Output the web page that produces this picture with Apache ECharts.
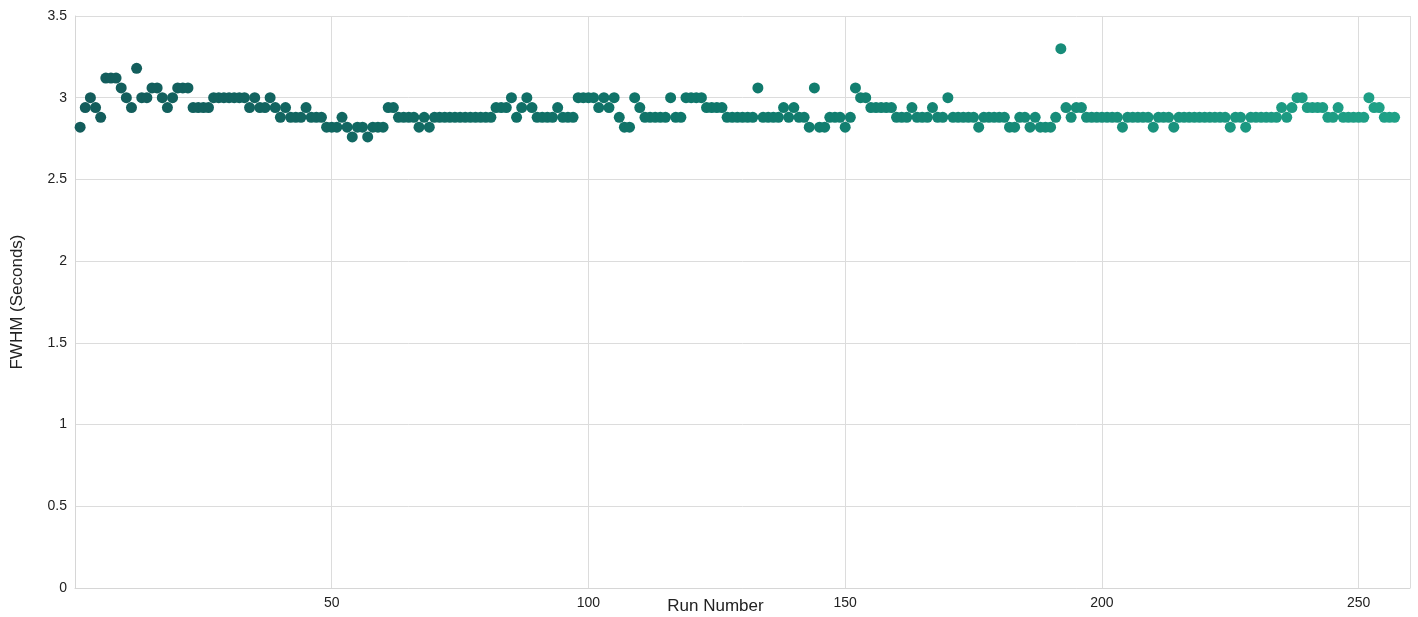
<!DOCTYPE html>
<html>
<head>
<meta charset="utf-8">
<script src="https://cdn.jsdelivr.net/npm/echarts@6/dist/echarts.min.js"></script>
<style>
  html, body { margin: 0; padding: 0; background: #fff; }
  #chart { width: 1418px; height: 617px; }
</style>
</head>
<body>
<div id="chart"></div>
<script>
// FWHM per run, run number = index + 1
const fwhm = [
  2.82, 2.94, 3.0, 2.94, 2.88, 3.12, 3.12, 3.12, 3.06, 3.0,
  2.94, 3.18, 3.0, 3.0, 3.06, 3.06, 3.0, 2.94, 3.0, 3.06,
  3.06, 3.06, 2.94, 2.94, 2.94, 2.94, 3.0, 3.0, 3.0, 3.0,
  3.0, 3.0, 3.0, 2.94, 3.0, 2.94, 2.94, 3.0, 2.94, 2.88,
  2.94, 2.88, 2.88, 2.88, 2.94, 2.88, 2.88, 2.88, 2.82, 2.82,
  2.82, 2.88, 2.82, 2.76, 2.82, 2.82, 2.76, 2.82, 2.82, 2.82,
  2.94, 2.94, 2.88, 2.88, 2.88, 2.88, 2.82, 2.88, 2.82, 2.88,
  2.88, 2.88, 2.88, 2.88, 2.88, 2.88, 2.88, 2.88, 2.88, 2.88,
  2.88, 2.94, 2.94, 2.94, 3.0, 2.88, 2.94, 3.0, 2.94, 2.88,
  2.88, 2.88, 2.88, 2.94, 2.88, 2.88, 2.88, 3.0, 3.0, 3.0,
  3.0, 2.94, 3.0, 2.94, 3.0, 2.88, 2.82, 2.82, 3.0, 2.94,
  2.88, 2.88, 2.88, 2.88, 2.88, 3.0, 2.88, 2.88, 3.0, 3.0,
  3.0, 3.0, 2.94, 2.94, 2.94, 2.94, 2.88, 2.88, 2.88, 2.88,
  2.88, 2.88, 3.06, 2.88, 2.88, 2.88, 2.88, 2.94, 2.88, 2.94,
  2.88, 2.88, 2.82, 3.06, 2.82, 2.82, 2.88, 2.88, 2.88, 2.82,
  2.88, 3.06, 3.0, 3.0, 2.94, 2.94, 2.94, 2.94, 2.94, 2.88,
  2.88, 2.88, 2.94, 2.88, 2.88, 2.88, 2.94, 2.88, 2.88, 3.0,
  2.88, 2.88, 2.88, 2.88, 2.88, 2.82, 2.88, 2.88, 2.88, 2.88,
  2.88, 2.82, 2.82, 2.88, 2.88, 2.82, 2.88, 2.82, 2.82, 2.82,
  2.88, 3.3, 2.94, 2.88, 2.94, 2.94, 2.88, 2.88, 2.88, 2.88,
  2.88, 2.88, 2.88, 2.82, 2.88, 2.88, 2.88, 2.88, 2.88, 2.82,
  2.88, 2.88, 2.88, 2.82, 2.88, 2.88, 2.88, 2.88, 2.88, 2.88,
  2.88, 2.88, 2.88, 2.88, 2.82, 2.88, 2.88, 2.82, 2.88, 2.88,
  2.88, 2.88, 2.88, 2.88, 2.94, 2.88, 2.94, 3.0, 3.0, 2.94,
  2.94, 2.94, 2.94, 2.88, 2.88, 2.94, 2.88, 2.88, 2.88, 2.88,
  2.88, 3.0, 2.94, 2.94, 2.88, 2.88, 2.88
];
const pointColors = ['#135c5b', '#0f786b', '#1fa187'];

const font = "'Helvetica Neue', Helvetica, Arial, 'Liberation Sans', sans-serif";
const chart = echarts.init(document.getElementById('chart'));

chart.setOption({
  backgroundColor: '#fff',
  animation: false,
  grid: { left: 75, right: 8, top: 16, bottom: 29, outerBoundsMode: 'none', containLabel: false },
  visualMap: {
    show: false,
    type: 'continuous',
    dimension: 0,
    min: 1,
    max: fwhm.length,
    inRange: { color: pointColors },
  },
  xAxis: {
    type: 'value',
    min: 0,
    max: 260,
    interval: 50,
    name: 'Run Number',
    nameLocation: 'middle',
    nameGap: 10,
    nameMoveOverlap: false,
    nameTextStyle: { color: '#222', fontSize: 17, fontWeight: 500, fontFamily: font, padding: [0, 54, 0, 0] },
    axisLine: { lineStyle: { color: '#d6d6d6' } },
    axisTick: { show: false },
    axisLabel: { color: '#222', fontSize: 14, fontFamily: font, showMinLabel: false, showMaxLabel: false, margin: 8 },
    splitLine: { show: true, lineStyle: { color: '#dcdcdc' } },
  },
  yAxis: {
    type: 'value',
    min: 0,
    max: 3.5,
    interval: 0.5,
    name: 'FWHM (Seconds)',
    nameLocation: 'middle',
    nameGap: 49,
    nameMoveOverlap: false,
    nameTextStyle: { color: '#222', fontSize: 17, fontWeight: 500, fontFamily: font },
    axisLine: { show: true, lineStyle: { color: '#d6d6d6' } },
    axisTick: { show: false },
    axisLabel: { color: '#222', fontSize: 14, fontFamily: font, margin: 8 },
    splitLine: { lineStyle: { color: '#dcdcdc' } },
  },
  series: [
    {
      type: 'scatter',
      symbolSize: 11,
      itemStyle: { opacity: 1 },
      data: fwhm.map((v, i) => [i + 1, v]),
    },
  ],
});
</script>
</body>
</html>
